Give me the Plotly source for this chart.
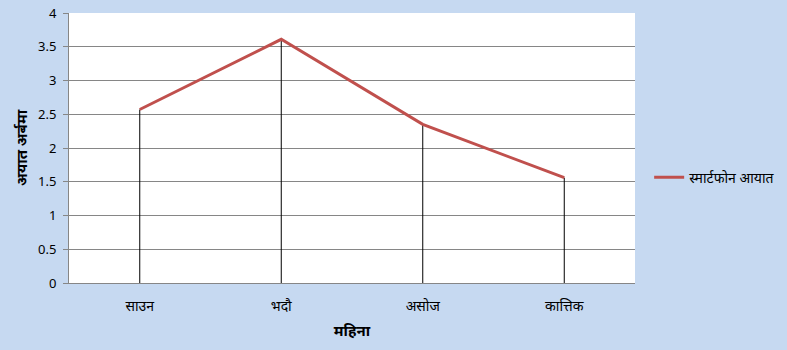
import plotly.graph_objects as go

months = ["साउन", "भदौ", "असोज", "कात्तिक"]
imports = [2.57, 3.61, 2.35, 1.56]
series_name = "स्मार्टफोन आयात"
y_ticks = [0, 0.5, 1, 1.5, 2, 2.5, 3, 3.5, 4]
y_tick_text = ["0", "0.5", "1", "1.5", "2", "2.5", "3", "3.5", "4"]

drop_x, drop_y = [], []
for m, v in zip(months, imports):
    drop_x += [m, m, None]
    drop_y += [0, v, None]

fig = go.Figure()
fig.add_trace(go.Scatter(x=drop_x, y=drop_y, mode="lines",
                         line=dict(color="black", width=1),
                         showlegend=False, hoverinfo="skip"))
fig.add_trace(go.Scatter(x=months, y=imports, mode="lines", name=series_name,
                         line=dict(color="#C0504D", width=3)))

font_family = "Noto Sans, DejaVu Sans, sans-serif"
fig.update_layout(
    width=787, height=350,
    margin=dict(l=69, r=152, t=13, b=67, autoexpand=False),
    paper_bgcolor="#C6D9F1",
    plot_bgcolor="white",
    font=dict(family=font_family, size=13, color="black"),
    legend=dict(x=1.025, y=0.39, xanchor="left", yanchor="middle",
                bgcolor="rgba(0,0,0,0)", font=dict(size=14)),
    xaxis=dict(
        type="category", range=[-0.5, 3.5], automargin=False,
        showgrid=False, showline=True, linecolor="#868686", linewidth=1,
        ticks="", tickfont=dict(size=14), ticklabelstandoff=10,
        title=dict(text="<b>महिना</b>", font=dict(size=15), standoff=11),
        zeroline=False,
    ),
    yaxis=dict(
        range=[0, 4], tickvals=y_ticks, ticktext=y_tick_text, automargin=False,
        showgrid=True, gridcolor="#868686", gridwidth=1,
        showline=True, linecolor="#868686", linewidth=1,
        ticks="outside", ticklen=5, tickcolor="#868686",
        tickfont=dict(size=13), ticklabelstandoff=4,
        title=dict(text="<b>अयात अर्बमा</b>", font=dict(size=15), standoff=6),
        zeroline=False,
    ),
)

fig.write_html("out.html")
